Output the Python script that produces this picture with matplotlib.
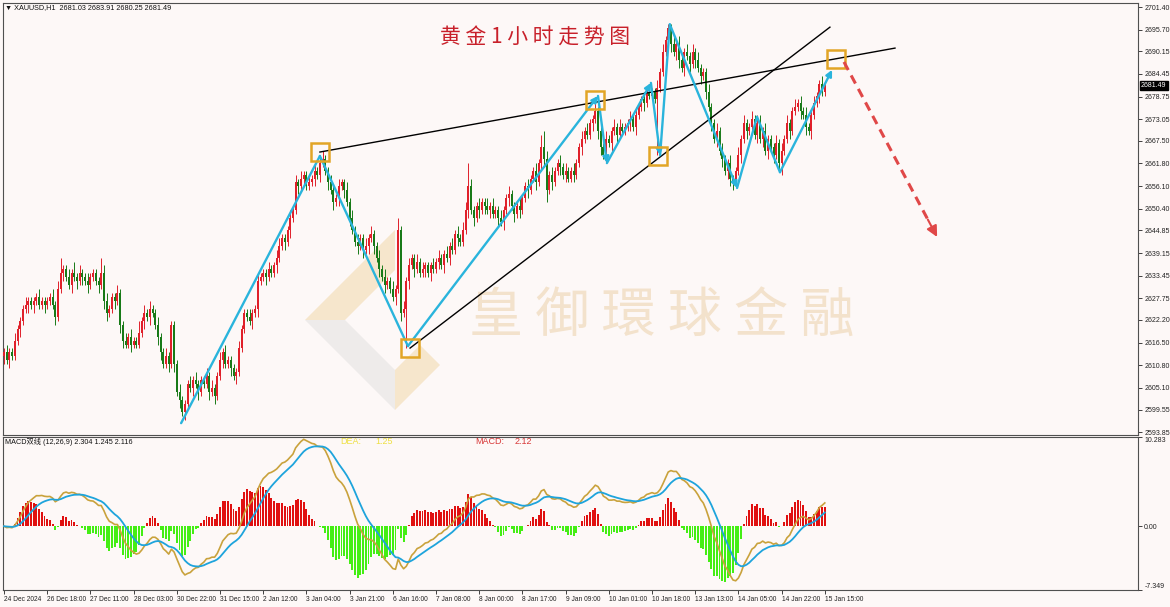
import numpy as np
import matplotlib
matplotlib.use('Agg')
import matplotlib.pyplot as plt
from matplotlib.patches import Rectangle, Polygon

# ---------------- data ----------------
first_open = 2613.0
closes = [
    2614, 2612, 2614, 2613, 2617, 2620, 2622, 2625, 2626, 2627,
    2626, 2627, 2628, 2626, 2627, 2626, 2627, 2628, 2626, 2623,
    2630, 2634, 2635, 2633, 2631, 2634, 2633, 2632, 2634, 2633,
    2632, 2631, 2633, 2634, 2632, 2631, 2634, 2627, 2624, 2625,
    2628, 2627, 2629, 2621, 2617, 2616, 2618, 2616, 2617, 2616,
    2619, 2622, 2624, 2623, 2625, 2624, 2621, 2618, 2614, 2611,
    2613, 2611, 2621, 2611, 2604, 2602, 2599, 2601, 2606, 2605,
    2607, 2606, 2604, 2607, 2606, 2608, 2604, 2605, 2603, 2608,
    2612, 2614, 2611, 2612, 2610, 2608, 2609, 2615, 2620, 2624,
    2623, 2622, 2624, 2625, 2632, 2633, 2634, 2633, 2635, 2634,
    2636, 2638, 2641, 2643, 2642, 2645, 2648, 2650, 2657, 2656,
    2658, 2659, 2656, 2657, 2658, 2660, 2659, 2662, 2663, 2660,
    2657, 2655, 2652, 2653, 2656, 2657, 2655, 2652, 2648, 2645,
    2642, 2641, 2643, 2640, 2641, 2643, 2644, 2641, 2638, 2635,
    2633, 2631, 2632, 2630, 2628, 2630, 2645, 2624, 2625, 2632,
    2636, 2638, 2635, 2637, 2634, 2635, 2636, 2634, 2636, 2635,
    2637, 2638, 2636, 2639, 2638, 2641, 2640, 2644, 2643, 2642,
    2645, 2650, 2656, 2650, 2648, 2651, 2650, 2652, 2651, 2650,
    2651, 2649, 2650, 2648, 2647, 2650, 2653, 2654, 2651, 2649,
    2651, 2650, 2653, 2656, 2655, 2658, 2660, 2657, 2662, 2666,
    2663, 2655, 2659, 2657, 2660, 2662, 2661, 2659, 2660, 2658,
    2660, 2659, 2662, 2666, 2668, 2670, 2669, 2672, 2673, 2675,
    2670, 2666, 2664, 2668, 2667, 2670, 2671, 2669, 2671, 2670,
    2671, 2672, 2673, 2671, 2674, 2676, 2678, 2677, 2680, 2679,
    2680, 2678, 2681, 2685, 2690, 2693, 2696, 2692, 2690, 2692,
    2688, 2686, 2690, 2689, 2687, 2690, 2688, 2686, 2684, 2685,
    2680, 2676, 2672, 2668, 2670, 2665, 2663, 2660, 2662, 2658,
    2657, 2660, 2664, 2668, 2672, 2670, 2671, 2673, 2669, 2672,
    2668, 2670, 2665, 2668, 2666, 2664, 2667, 2662, 2665, 2668,
    2672, 2670, 2675, 2676, 2677, 2675, 2674, 2671, 2670, 2674,
    2677, 2679, 2682, 2680, 2681.49,
]
upper_wicks = (
    "1211211121" "1112111121" "2411213121" "1211114221" "1121121211"
    "3121211211" "2111121112" "1211121211" "2121111211" "1211211121"
    "1221112121" "2112121221" "1211211212" "1211212112" "1211213121"
    "2112121112" "1211212121" "2262112112" "1211211211" "1211211213"
    "4212112121" "1211212112" "1212112121" "1121211212" "1121211121"
    "2112121211" "1211212112" "1121211212" "2121112121" "2112121211"
    "21121"
)
lower_wicks = (
    "2121112112" "1211121112" "1121121212" "1211121221" "1212211211"
    "1121211221" "1212121211" "2121112121" "1211212111" "1121211211"
    "1211212112" "1211121211" "2121212121" "1212121212" "1211121212"
    "2121112121" "1212121121" "1121212121" "2112121212" "1211211212"
    "2312112121" "1211211121" "2212121211" "1121211211" "1121111212"
    "2121212121" "2121212122" "2112121212" "1212121231" "1211121212"
    "11211"
)
lower_wick_override = {149: 10, 242: 14}

x_tick_labels = ["24 Dec 2024", "26 Dec 18:00", "27 Dec 11:00", "28 Dec 03:00", "30 Dec 22:00",
                 "31 Dec 15:00", "2 Jan 12:00", "3 Jan 04:00", "3 Jan 21:00", "6 Jan 16:00",
                 "7 Jan 08:00", "8 Jan 00:00", "8 Jan 17:00", "9 Jan 09:00", "10 Jan 01:00",
                 "10 Jan 18:00", "13 Jan 13:00", "14 Jan 05:00", "14 Jan 22:00", "15 Jan 15:00"]
price_ticks = [2701.40, 2695.70, 2690.15, 2684.45, 2678.75, 2673.05, 2667.50, 2661.80, 2656.10,
               2650.40, 2644.85, 2639.15, 2633.45, 2627.75, 2622.20, 2616.50, 2610.80, 2605.10,
               2599.55, 2593.85]
macd_ticks = [10.283, 0.0, -7.349]

# annotations (bar index, price)
trend_lines = [((117.0, 2664.7), (330.0, 2691.0)), ((150.4, 2615.1), (305.9, 2696.3))]
boxes = [(117.0, 2664.7), (150.4, 2615.1), (218.9, 2677.9), (242.2, 2663.7), (308.1, 2688.2)]
wave_pts = [(65.6, 2596.1), (117.0, 2663.7), (149.6, 2615.6), (220.0, 2678.9), (223.3, 2661.9),
            (239.6, 2682.2), (243.0, 2663.9), (246.6, 2697.0), (271.5, 2655.6), (278.9, 2673.6),
            (287.4, 2659.6), (306.7, 2685.5)]
wave_arrow = [False, False, True, True, True, True, False, True, False, False, True]
forecast = ((311.1, 2687.5), (345.6, 2643.2))

# ---------------- derived ----------------
c = np.array(closes, dtype=float)
N = len(c)
o = np.concatenate([[first_open], c[:-1]])
uw = np.array([int(ch) for ch in upper_wicks], dtype=float)
lw_ = np.array([int(ch) for ch in lower_wicks], dtype=float)
for k, v in lower_wick_override.items():
    lw_[k] = v
h = np.maximum(o, c) + uw
l = np.minimum(o, c) - lw_
idx = np.arange(N)

def ema(x, n):
    a = 2.0 / (n + 1)
    out = np.empty_like(x)
    out[0] = x[0]
    for i in range(1, len(x)):
        out[i] = a * x[i] + (1 - a) * out[i - 1]
    return out

dif = ema(c, 12) - ema(c, 26)
dea = ema(dif, 9)
hist = 2 * (dif - dea)

# ---------------- figure ----------------
W, H = 1170, 607
BG = '#fdf8f7'
RED = '#e0202a'
GREEN = '#187a18'
SMALL = ['Liberation Sans', 'DejaVu Sans']
CJK = ['Noto Sans CJK SC', 'DejaVu Sans']
fig = plt.figure(figsize=(W / 100, H / 100), dpi=100, facecolor=BG)
ax = fig.add_axes([3 / W, 1 - 435 / H, 1135 / W, 432 / H], facecolor=BG)
ax2 = fig.add_axes([3 / W, 1 - 590 / H, 1135 / W, 153 / H], facecolor=BG)

px_per_bar = 2.7
x0 = (3 - 4) / px_per_bar
x1 = (1138 - 4) / px_per_bar
for a in (ax, ax2):
    a.set_xlim(x0, x1)
    for s in a.spines.values():
        s.set_color('#505050')
        s.set_linewidth(0.8)

ax.set_ylim(2701.4 - 428 / 3.952, 2701.4 + 4 / 3.952)
ax2.set_ylim(-7.349, 10.283)

# watermark + logo
def fp(x, y):
    return (x / W, 1 - y / H)

logo_tl = [fp(305, 320), fp(395, 230), fp(395, 270), fp(345, 320)]
logo_bl = [fp(305, 320), fp(395, 410), fp(395, 370), fp(345, 320)]
logo_br = [fp(395, 410), fp(440, 365), fp(420, 345), fp(395, 370)]
for pts, col in ((logo_tl, '#f6e6cc'), (logo_bl, '#eeebea'), (logo_br, '#f6e6cc')):
    ax.add_patch(Polygon(pts, closed=True, transform=fig.transFigure, facecolor=col,
                         edgecolor='none', zorder=0.5, clip_on=False))
ax.text(662 / W, 1 - 316 / H, "皇 御 環 球 金 融", transform=fig.transFigure,
        fontsize=39, color='#f3e2cc', ha='center', va='center', zorder=0.6,
        family=CJK)

# candles
cols = np.where(c >= o, RED, GREEN)
ax.vlines(idx, l, h, colors=cols, lw=0.7, zorder=2)
body_h = np.maximum(np.abs(c - o), 0.25)
ax.bar(idx, body_h, bottom=np.minimum(o, c), width=0.72, color=cols, lw=0, zorder=3)

# trend lines
for (xa, ya), (xb, yb) in trend_lines:
    ax.plot([xa, xb], [ya, yb], color='black', lw=1.0, zorder=4)

# wave path
WAVE = '#2ab4dc'
for i in range(len(wave_pts) - 1):
    (xa, ya), (xb, yb) = wave_pts[i], wave_pts[i + 1]
    if wave_arrow[i]:
        ax.annotate('', xy=(xb, yb), xytext=(xa, ya),
                    arrowprops=dict(arrowstyle='-|>', color=WAVE, lw=1.7,
                                    mutation_scale=9, shrinkA=0, shrinkB=0), zorder=5)
    else:
        ax.plot([xa, xb], [ya, yb], color=WAVE, lw=1.7, zorder=5, solid_capstyle='round')

# boxes
bw = 18 / px_per_bar
bh = 18 / 3.952
for bx, by in boxes:
    ax.add_patch(Rectangle((bx - bw / 2, by - bh / 2), bw, bh, fill=False,
                           edgecolor='#e2a526', lw=1.8, zorder=6))

# forecast arrow
(fx0, fy0), (fx1, fy1) = forecast
fxm = fx0 + (fx1 - fx0) * 0.9
fym = fy0 + (fy1 - fy0) * 0.9
ax.plot([fx0, fxm], [fy0, fym], color='#e04848', lw=2.2, ls=(0, (3, 2)), zorder=6)
ax.annotate('', xy=(fx1, fy1), xytext=(fxm, fym),
            arrowprops=dict(arrowstyle='-|>', color='#e04848', lw=1.5,
                            mutation_scale=16, shrinkA=0, shrinkB=0), zorder=6)

# title
ax.text(535 / W, 1 - 38 / H, "黄 金 1 小 时 走 势 图", transform=fig.transFigure, fontsize=15,
        color='#c8202a', ha='center', va='center', family=CJK)

# y axis main
ax.yaxis.tick_right()
ax.set_yticks(price_ticks)
ax.set_yticklabels([f"{v:.2f}" for v in price_ticks], family=SMALL)
ax.tick_params(axis='y', labelsize=5, length=3, width=0.6, pad=1.5, colors='#222222')
ax.set_xticks([])
ax.annotate("2681.49", xy=(1.0, closes[-1]), xycoords=('axes fraction', 'data'),
            xytext=(2.2, 0), textcoords='offset points', ha='left', va='center',
            fontsize=5, color='white', family=SMALL,
            bbox=dict(boxstyle='square,pad=0.15', fc='black', ec='black'))

# MACD panel
hcols = np.where(hist >= 0, '#e01010', '#44ee14')
ax2.bar(idx, hist, width=0.7, color=hcols, lw=0, zorder=2)
ax2.plot(idx, dif, color='#c9a23c', lw=1.2, zorder=3)
ax2.plot(idx, dea, color='#1ea4dc', lw=1.3, zorder=4)
ax2.yaxis.tick_right()
ax2.set_yticks(macd_ticks)
ax2.set_yticklabels(["10.283", "0.00", "-7.349"], family=SMALL)
ax2.tick_params(axis='y', labelsize=5, length=3, width=0.6, pad=1.5, colors='#222222')
lbls = ax2.get_yticklabels()
lbls[0].set_va('top')
lbls[2].set_va('bottom')

ax2.set_xticks(np.arange(len(x_tick_labels)) * 16)
ax2.set_xticklabels(x_tick_labels, family=SMALL)
ax2.tick_params(axis='x', labelsize=4.8, length=3, width=0.6, pad=1.5, colors='#222222')
for t in ax2.get_xticklabels():
    t.set_ha('left')

# header texts
fig.text(5 / W, 1 - 8 / H, "▼ XAUUSD,H1  2681.03 2683.91 2680.25 2681.49",
         fontsize=5.2, color='#111111', ha='left', va='center', family=SMALL)
fig.text(5 / W, 1 - 442 / H, "MACD双线 (12,26,9) 2.304 1.245 2.116",
         fontsize=5.2, color='#111111', ha='left', va='center',
         family=['Liberation Sans', 'Noto Sans CJK SC', 'DejaVu Sans'])
fig.text(340 / W, 1 - 442 / H, "DEA:", fontsize=6.5, color='#eee040',
         ha='left', va='center', family=SMALL)
fig.text(375 / W, 1 - 442 / H, "1.25", fontsize=6.5, color='#eee040',
         ha='left', va='center', family=SMALL)
fig.text(475 / W, 1 - 442 / H, "MACD:", fontsize=6.5, color='#d83838',
         ha='left', va='center', family=SMALL)
fig.text(515 / W, 1 - 442 / H, "2.12", fontsize=6.5, color='#d83838',
         ha='left', va='center', family=SMALL)

fig.savefig('out.png', dpi=100, facecolor=BG)
